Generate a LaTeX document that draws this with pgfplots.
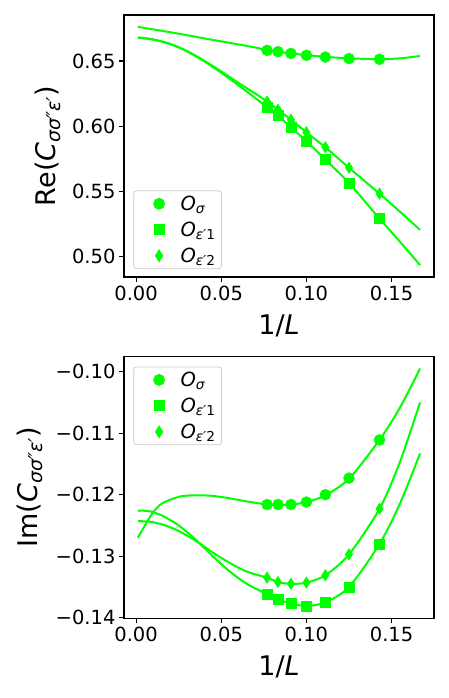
\documentclass[border=0pt]{standalone}
\usepackage{fontspec}
\setmainfont{DejaVu Sans}
\usepackage{pgfplots}
\pgfplotsset{compat=1.18}
\definecolor{fitgreen}{HTML}{00FF00}

\newcommand{\tickfont}{\fontsize{19.5}{23}\selectfont}
\newcommand{\labfont}{\fontsize{27}{32}\selectfont}

\pgfplotsset{
  panel/.style={
    scale only axis,
    width=310pt, height=262pt,
    xmin=-0.0071, xmax=0.1749,
    xtick={0,0.05,0.1,0.15},
    xticklabels={0.00,0.05,0.10,0.15},
    tick align=outside,
    xtick pos=bottom, ytick pos=left,
    major tick length=5pt,
    every tick/.style={black,line width=1.1pt},
    axis line style={black,line width=1.1pt},
    tick label style={font=\tickfont},
    label style={font=\labfont},
    xlabel={1/\textit{L}},
    xlabel style={at={(axis description cs:0.5,-0.2176)},anchor=base},
    legend cell align=left,
    legend style={font=\tickfont,draw=black!20,line width=0.8pt,rounded corners=3pt,
      fill=white,inner xsep=4pt,inner ysep=3pt,row sep=6pt},
  },
  legmark/.style={legend image code/.code={\path (0pt,0pt) (40pt,0pt);
      \draw[mark repeat=2,mark phase=2,##1]
      plot coordinates {(0pt,0pt)(21pt,0pt)(40pt,0pt)};}},
  fit/.style={fitgreen,line width=2pt,smooth,no marks,forget plot},
  sig/.style={only marks,mark=*,mark size=5.5pt,color=fitgreen,mark options={fill=fitgreen,draw=fitgreen},legmark},
  ep1/.style={only marks,mark=square*,mark size=5pt,color=fitgreen,mark options={fill=fitgreen,draw=fitgreen},legmark},
  ep2/.style={only marks,mark=diamond*,mark size=5.8pt,color=fitgreen,mark options={fill=fitgreen,draw=fitgreen,xscale=0.85},legmark},
}

\begin{document}
\begin{tikzpicture}
\useasboundingbox (0,0) rectangle (449pt,698pt);

% real part
\begin{axis}[panel,
  at={(124pt,421pt)}, anchor=south west,
  ymin=0.4846, ymax=0.6852,
  ytick={0.50,0.55,0.60,0.65},
  yticklabels={0.50,0.55,0.60,0.65},
  ylabel={Re(\textit{C}\textsubscript{\itshape σσ″ε′})},
  ylabel style={at={(axis description cs:-0.245,0.5)},anchor=center},
  legend style={at={(0.03,0.03)},anchor=south west},
]
\addplot[fit] coordinates {(0.001,0.6761)(0.01,0.6742)(0.02,0.6720)(0.03,0.6697)(0.04,0.6673)(0.05,0.6650)(0.06,0.6627)(0.07,0.6603)(0.0769,0.6583)(0.0833,0.6571)(0.0909,0.6558)(0.1,0.6545)(0.1111,0.6532)(0.125,0.6520)(0.1429,0.6514)(0.155,0.6520)(0.1667,0.6538)};
\addplot[fit] coordinates {(0.001,0.6680)(0.01,0.6665)(0.02,0.6630)(0.03,0.6573)(0.04,0.6497)(0.05,0.6410)(0.06,0.6315)(0.07,0.6216)(0.0769,0.6147)(0.0833,0.6081)(0.0909,0.5992)(0.1,0.5885)(0.1111,0.5745)(0.125,0.5565)(0.1429,0.5293)(0.155,0.5115)(0.1667,0.4937)};
\addplot[fit] coordinates {(0.001,0.6678)(0.01,0.6664)(0.02,0.6630)(0.03,0.6575)(0.04,0.6502)(0.05,0.6420)(0.06,0.6333)(0.07,0.6250)(0.0769,0.6190)(0.0833,0.6127)(0.0909,0.6050)(0.1,0.5954)(0.1111,0.5839)(0.125,0.5682)(0.1429,0.5484)(0.155,0.5345)(0.1667,0.5207)};
\addplot[sig] coordinates {(0.0769,0.6581)(0.0833,0.6571)(0.0909,0.6558)(0.1,0.6543)(0.1111,0.6530)(0.125,0.6518)(0.1429,0.6513)};
\addlegendentry{\textit{O}\textsubscript{\itshape σ}}
\addplot[ep1] coordinates {(0.0769,0.6147)(0.0833,0.6081)(0.0909,0.5992)(0.1,0.5885)(0.1111,0.5745)(0.125,0.5565)(0.1429,0.5293)};
\addlegendentry{\textit{O}\textsubscript{\textit{ε′}1}}
\addplot[ep2] coordinates {(0.0769,0.6190)(0.0833,0.6127)(0.0909,0.6050)(0.1,0.5954)(0.1111,0.5839)(0.125,0.5682)(0.1429,0.5484)};
\addlegendentry{\textit{O}\textsubscript{\textit{ε′}2}}
\end{axis}

% imaginary part
\begin{axis}[panel,
  at={(124pt,79.7pt)}, anchor=south west,
  ymin=-0.1401, ymax=-0.0975,
  ytick={-0.14,-0.13,-0.12,-0.11,-0.10},
  yticklabels={−0.14,−0.13,−0.12,−0.11,−0.10},
  ylabel={Im(\textit{C}\textsubscript{\itshape σσ″ε′})},
  ylabel style={at={(axis description cs:-0.303,0.5)},anchor=center},
  legend style={at={(0.03,0.961)},anchor=north west},
]
\addplot[fit] coordinates {(0.001,-0.1270)(0.005,-0.1251)(0.0082,-0.1236)(0.012,-0.1222)(0.016,-0.1213)(0.0258,-0.1203)(0.0356,-0.1201)(0.045,-0.1202)(0.0552,-0.1206)(0.065,-0.1211)(0.0769,-0.1216)(0.0833,-0.1217)(0.0909,-0.1216)(0.1,-0.1212)(0.1111,-0.1201)(0.125,-0.1174)(0.1429,-0.1111)(0.155,-0.1058)(0.1667,-0.0995)};
\addplot[fit] coordinates {(0.001,-0.1226)(0.008,-0.1227)(0.016,-0.1235)(0.025,-0.1250)(0.035,-0.1273)(0.045,-0.1300)(0.055,-0.1325)(0.065,-0.1345)(0.0769,-0.1362)(0.0833,-0.1370)(0.0909,-0.1377)(0.1,-0.1381)(0.1111,-0.1375)(0.125,-0.1350)(0.1429,-0.1280)(0.155,-0.1214)(0.1667,-0.1133)};
\addplot[fit] coordinates {(0.001,-0.1243)(0.008,-0.1244)(0.016,-0.1249)(0.025,-0.1259)(0.035,-0.1275)(0.045,-0.1294)(0.055,-0.1311)(0.065,-0.1325)(0.0769,-0.1335)(0.0833,-0.1342)(0.0909,-0.1345)(0.1,-0.1343)(0.1111,-0.1331)(0.125,-0.1297)(0.1429,-0.1223)(0.155,-0.1146)(0.1667,-0.1050)};
\addplot[sig] coordinates {(0.0769,-0.1216)(0.0833,-0.1216)(0.0909,-0.1216)(0.1,-0.1212)(0.1111,-0.1200)(0.125,-0.1173)(0.1429,-0.1111)};
\addlegendentry{\textit{O}\textsubscript{\itshape σ}}
\addplot[ep1] coordinates {(0.0769,-0.1362)(0.0833,-0.1370)(0.0909,-0.1377)(0.1,-0.1381)(0.1111,-0.1375)(0.125,-0.1350)(0.1429,-0.1280)};
\addlegendentry{\textit{O}\textsubscript{\textit{ε′}1}}
\addplot[ep2] coordinates {(0.0769,-0.1335)(0.0833,-0.1342)(0.0909,-0.1345)(0.1,-0.1343)(0.1111,-0.1331)(0.125,-0.1297)(0.1429,-0.1223)};
\addlegendentry{\textit{O}\textsubscript{\textit{ε′}2}}
\end{axis}
\end{tikzpicture}
\end{document}
